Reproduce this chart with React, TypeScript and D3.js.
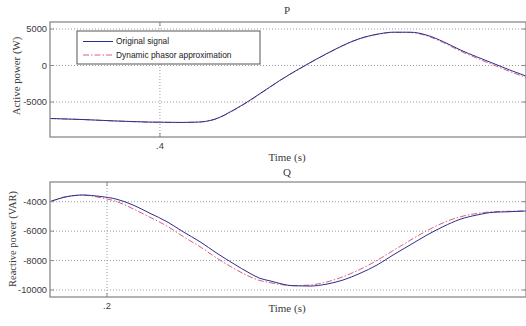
import React from "react";
import * as d3 from "d3";

// ---- Data ----
const pTime = [0.30, 0.33, 0.36, 0.39, 0.42, 0.435, 0.45, 0.467, 0.482, 0.491, 0.50, 0.509, 0.532, 0.552, 0.582, 0.60, 0.612, 0.628, 0.643, 0.658, 0.673, 0.688, 0.703, 0.718, 0.733];
const pOriginal = [-7260, -7400, -7600, -7750, -7800, -7750, -7350, -6100, -4750, -3850, -2950, -2050, 0, 1650, 3700, 4350, 4560, 4560, 4150, 3250, 2150, 1200, 300, -600, -1450];
const pPhasor = [-7260, -7410, -7610, -7760, -7810, -7760, -7380, -6150, -4800, -3900, -3000, -2080, -30, 1620, 3680, 4330, 4540, 4520, 4060, 3120, 2000, 1020, 100, -800, -1650];

const qTime = [0.143, 0.160, 0.176, 0.193, 0.210, 0.226, 0.243, 0.260, 0.276, 0.293, 0.310, 0.326, 0.343, 0.353, 0.363, 0.370, 0.386, 0.403, 0.420, 0.436, 0.453, 0.470, 0.486, 0.503, 0.520, 0.536, 0.553, 0.570, 0.586, 0.603, 0.619];
const qOriginal = [-4000, -3660, -3544, -3640, -3837, -4224, -4789, -5360, -6040, -6720, -7509, -8189, -8869, -9209, -9380, -9508, -9712, -9732, -9596, -9324, -8869, -8304, -7624, -6944, -6264, -5700, -5197, -4904, -4721, -4680, -4632];
const qPhasor = [-4000, -3640, -3560, -3720, -4000, -4480, -5060, -5660, -6360, -7060, -7840, -8500, -9100, -9360, -9500, -9590, -9700, -9660, -9450, -9100, -8600, -7990, -7330, -6630, -5970, -5440, -5030, -4800, -4680, -4650, -4630];

const pYTicks = [-5000, 0, 5000];
const pXTicks = [0.4];
const pXTickLabels = [".4"];
const qYTicks = [-10000, -8000, -6000, -4000];
const qXTicks = [0.2];
const qXTickLabels = [".2"];

const legendLabels = ["Original signal", "Dynamic phasor approximation"];

const BLUE = "#2b2f8c";
const RED = "#d9607e";
const FRAME = "#8a8a8a";
const GRID = "#9a9a9a";

type PanelProps = {
  top: number;
  bottom: number;
  xDomain: [number, number];
  yDomain: [number, number];
  time: number[];
  s1: number[];
  s2: number[];
  yTicks: number[];
  xTicks: number[];
  xTickLabels: string[];
  title: string;
  titleY: number;
  yLabel: string;
  yLabelX: number;
  yLabelY: number;
  yLabelSize: number;
  xLabelY: number;
  xTickY: number;
  legend?: boolean;
};

const LEFT = 50;
const RIGHT = 526;

function Panel(p: PanelProps) {
  const x = d3.scaleLinear().domain(p.xDomain).range([LEFT, RIGHT]);
  const y = d3.scaleLinear().domain(p.yDomain).range([p.bottom, p.top]);
  const line = d3
    .line<number>()
    .x((_, i) => x(p.time[i]))
    .y((d) => y(d))
    .curve(d3.curveMonotoneX);
  return (
    <g>
      {p.yTicks.map((t) => (
        <line key={"gy" + t} x1={LEFT} x2={RIGHT} y1={y(t)} y2={y(t)} stroke={GRID} strokeWidth={1} strokeDasharray="1,2" />
      ))}
      {p.xTicks.map((t) => (
        <line key={"gx" + t} x1={x(t)} x2={x(t)} y1={p.top} y2={p.bottom} stroke={GRID} strokeWidth={1} strokeDasharray="1,2" />
      ))}
      <path d={line(p.s2) || ""} fill="none" stroke={RED} strokeWidth={1} strokeDasharray="6,2,1.5,2" />
      <path d={line(p.s1) || ""} fill="none" stroke={BLUE} strokeWidth={1} />
      <rect x={LEFT} y={p.top} width={RIGHT - LEFT} height={p.bottom - p.top} fill="none" stroke={FRAME} strokeWidth={1.3} />
      {p.yTicks.map((t) => (
        <g key={"ty" + t}>
          <line x1={LEFT} x2={LEFT + 4} y1={y(t)} y2={y(t)} stroke={FRAME} />
          <line x1={RIGHT - 4} x2={RIGHT} y1={y(t)} y2={y(t)} stroke={FRAME} />
          <text x={LEFT - 3} y={y(t)} dy="0.35em" textAnchor="end" fontFamily="Liberation Sans, Arial, sans-serif" fontSize={9.3} fill="#3a3a3a">
            {t}
          </text>
        </g>
      ))}
      {p.xTicks.map((t, i) => (
        <g key={"tx" + t}>
          <line x1={x(t)} x2={x(t)} y1={p.bottom} y2={p.bottom - 4} stroke={FRAME} />
          <line x1={x(t)} x2={x(t)} y1={p.top} y2={p.top + 4} stroke={FRAME} />
          <text x={x(t)} y={p.xTickY} dy="0.35em" textAnchor="middle" fontFamily="Liberation Sans, Arial, sans-serif" fontSize={9.3} fill="#3a3a3a">
            {p.xTickLabels[i]}
          </text>
        </g>
      ))}
      <text x={287} y={p.titleY} dy="0.35em" textAnchor="middle" fontFamily="Liberation Serif, Times New Roman, serif" fontSize={11} fill="#3a3a3a">
        {p.title}
      </text>
      <text x={287} y={p.xLabelY} dy="0.35em" textAnchor="middle" fontFamily="Liberation Serif, Times New Roman, serif" fontSize={11} fill="#3a3a3a">
        Time (s)
      </text>
      <text
        transform={`translate(${p.yLabelX},${p.yLabelY}) rotate(-90)`}
        dy="0.35em"
        textAnchor="middle"
        fontFamily="Liberation Serif, Times New Roman, serif"
        fontSize={p.yLabelSize}
        fill="#3a3a3a"
      >
        {p.yLabel}
      </text>
      {p.legend && (
        <g>
          <rect x={77} y={31} width={183} height={33} fill="#fff" stroke="#555" strokeWidth={1} />
          <line x1={83} x2={113} y1={41.5} y2={41.5} stroke={BLUE} strokeWidth={1} />
          <text x={116} y={41.5} dy="0.35em" fontFamily="Liberation Sans, Arial, sans-serif" fontSize={8.4} fill="#222">
            {legendLabels[0]}
          </text>
          <line x1={83} x2={113} y1={55} y2={55} stroke={RED} strokeWidth={1} strokeDasharray="6,2,1.5,2" />
          <text x={116} y={55} dy="0.35em" fontFamily="Liberation Sans, Arial, sans-serif" fontSize={8.4} fill="#222">
            {legendLabels[1]}
          </text>
        </g>
      )}
    </g>
  );
}

export default function App() {
  return (
    <svg width={526} height={326} style={{ position: "absolute", left: 0, top: 0, background: "#fff" }}>
      <rect x={0} y={0} width={526} height={326} fill="#fff" />
      <Panel
        top={22}
        bottom={137}
        xDomain={[0.3, 0.733]}
        yDomain={[-9795, 5959]}
        time={pTime}
        s1={pOriginal}
        s2={pPhasor}
        yTicks={pYTicks}
        xTicks={pXTicks}
        xTickLabels={pXTickLabels}
        title="P"
        titleY={10}
        yLabel="Active power (W)"
        yLabelX={16}
        yLabelY={76}
        yLabelSize={10.8}
        xLabelY={157}
        xTickY={146}
        legend
      />
      <Panel
        top={182}
        bottom={297}
        xDomain={[0.143, 0.619]}
        yDomain={[-10476, -2662]}
        time={qTime}
        s1={qOriginal}
        s2={qPhasor}
        yTicks={qYTicks}
        xTicks={qXTicks}
        xTickLabels={qXTickLabels}
        title="Q"
        titleY={172}
        yLabel="Reactive power (VAR)"
        yLabelX={12}
        yLabelY={239}
        yLabelSize={10.5}
        xLabelY={308}
        xTickY={306}
      />
    </svg>
  );
}
